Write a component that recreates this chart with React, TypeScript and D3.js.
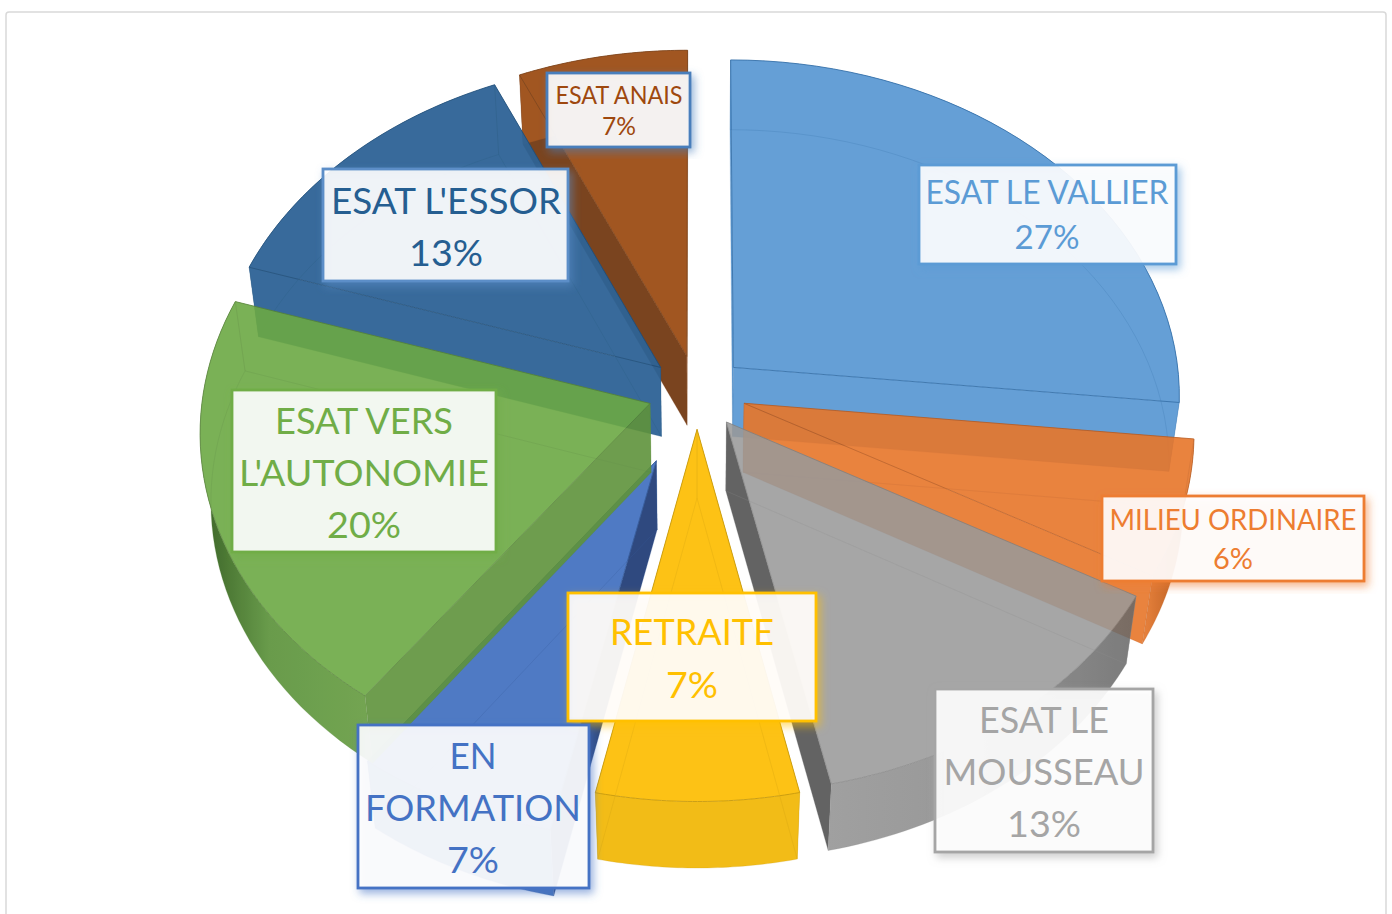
import React from "react";
import * as d3 from "d3";

const categories = ["ESAT LE VALLIER", "MILIEU ORDINAIRE", "ESAT LE MOUSSEAU", "RETRAITE", "EN FORMATION", "ESAT VERS L'AUTONOMIE", "ESAT L'ESSOR", "ESAT ANAIS"];
const shares = [26.67, 6.49, 13.48, 6.69, 6.67, 20, 13.33, 6.67];
const explosions = [0.11, 0.11, 0.11, 0.11, 0.22, 0.11, 0.11, 0.11];

const topColors = ["#659fd6", "#e9843f", "#a6a6a6", "#fdc215", "#4f7ac4", "#7bb257", "#386b9b", "#a25622"];
const startWall = ["#659fd6", "#e9843f", "#a6a6a6", "#f6bd16", "#2f4a80", "#6f9e4f", "#386b9b", "#7a4420"];
const endWall = ["#659fd6", "#e9843f", "#636363", "#f6bd16", "#44699f", "#7bb257", "#2f6ba3", "#a25622"];
const outerStops = [
  ["#659fd6", "#659fd6", "#659fd6"],
  ["#e9843f", "#d0702f", "#a0541c"],
  ["#a0a0a0", "#9a9a9a", "#7c7c7c"],
  ["#f2bc17", "#f2bc17", "#f2bc17"],
  ["#4a74bc", "#4a74bc", "#4a74bc"],
  ["#3c6428", "#6a9c4c", "#74a653"],
  ["#386b9b", "#386b9b", "#386b9b"],
  ["#a25622", "#a25622", "#a25622"],
];
const edgeColors = ["#2f6ca6", "#b8591c", "#7f7f7f", "#c79a10", "#2f5597", "#548235", "#1f4e79", "#7a3f15"];
const paintOrder = [7, 6, 0, 4, 5, 1, 2, 3];
const sliceOpacity = [0.95, 0.9, 0.87, 1, 0.95, 0.9, 0.95, 0.95];

const labelLines = [["ESAT LE VALLIER"], ["MILIEU ORDINAIRE"], ["ESAT LE", "MOUSSEAU"], ["RETRAITE"], ["EN", "FORMATION"], ["ESAT VERS", "L'AUTONOMIE"], ["ESAT L'ESSOR"], ["ESAT ANAIS"]];
const labelText = ["#5b9bd5", "#ed7d31", "#a5a5a5", "#ffc000", "#4472c4", "#70ad47", "#255e91", "#9e480e"];
const labelBorder = ["#5b9bd5", "#ed7d31", "#a5a5a5", "#ffc000", "#4472c4", "#70ad47", "#5b8ec8", "#4a7ebb"];
// box x, y, w, h, centre x, first line centre y, line gap, font size
const labelBoxes = [
  [919, 165, 257, 99, 1047, 192.5, 45, 33],
  [1102, 496, 262, 85, 1233, 519.5, 39, 29.5],
  [935, 689, 218, 163, 1044, 719, 52, 37.5],
  [568, 593, 248, 128, 692, 631, 53, 37.5],
  [358, 725, 231, 163, 473, 755, 52, 37.5],
  [232, 390, 264, 162, 364, 420, 52, 37.5],
  [323, 169, 245, 112, 446, 200, 52, 37.5],
  [547, 73, 143, 74, 619, 94.5, 31, 25],
];
const lineWidths = [
  [243, 65],
  [247, 40],
  [130, 201, 74],
  [164, 52],
  [47, 216, 52],
  [178, 250, 74],
  [230, 74],
  [127, 34],
];

const W = 1392;
const H = 914;
const cx = 697;
const cy = 392;
const f = 447;
const a = 336;
const k = 0.0804;
const dropY = 69;

function project(x: number, y: number, z: number): [number, number] {
  const d = 1 - z;
  const w = 1 + k * y + 0.022 * d;
  return [cx + (f * x) / w, cy + dropY * d - ((a + 6 * d) * y) / w];
}

// colour that shows as `hex` on white once the slice's group opacity is applied
function onWhite(hex: string, alpha: number) {
  const c = d3.rgb(hex);
  const fix = (v: number) => Math.max(0, (v - (1 - alpha) * 255) / alpha);
  return d3.rgb(fix(c.r), fix(c.g), fix(c.b)).formatHex();
}

const pieGen = d3.pie<number>().sort(null).value((d) => d);
const arcs = pieGen(shares);
const line = d3.line();

function slice(i: number) {
  const d = arcs[i];
  const mid = (d.startAngle + d.endAngle) / 2;
  const ox = explosions[i] * Math.sin(mid);
  const oy = explosions[i] * Math.cos(mid);
  const th = d3.scaleLinear().domain([0, 40]).range([d.startAngle, d.endAngle]);
  const rim = (z: number) => d3.range(41).map((n) => project(ox + Math.sin(th(n)), oy + Math.cos(th(n)), z));
  const tip = (z: number) => project(ox, oy, z);
  const top = rim(1);
  const bottom = rim(0);
  const closed = (p: [number, number][]) => (line(p) as string) + "Z";
  return {
    leftSide: mid > Math.PI,
    top: closed([tip(1), ...top]),
    floor: closed([tip(0), ...bottom]),
    outer: closed([...top, ...[...bottom].reverse()]),
    wallA: closed([tip(1), top[0], bottom[0], tip(0)]),
    wallB: closed([tip(1), top[40], bottom[40], tip(0)]),
    verticals: [
      line([top[0], bottom[0]]) as string,
      line([top[40], bottom[40]]) as string,
      line([tip(1), tip(0)]) as string,
    ],
  };
}

export default function App() {
  return (
    <svg width={W} height={H} style={{ position: "absolute", left: 0, top: 0, display: "block" }}>
      <defs>
        {outerStops.map((s, i) => (
          <linearGradient key={i} id={`outer${i}`} x1="0" x2="1" y1="0" y2="0">
            <stop offset="0" stopColor={onWhite(s[0], sliceOpacity[i])} />
            <stop offset="0.4" stopColor={onWhite(s[1], sliceOpacity[i])} />
            <stop offset="1" stopColor={onWhite(s[2], sliceOpacity[i])} />
          </linearGradient>
        ))}
        {labelBorder.map((c, i) => (
          <filter key={i} id={`shadow${i}`} x="-15%" y="-15%" width="130%" height="130%">
            <feDropShadow dx="3" dy="4" stdDeviation="4" floodColor={c} floodOpacity="0.6" />
          </filter>
        ))}
      </defs>
      <rect x={0} y={0} width={W} height={H} fill="#fff" />
      <rect x={6} y={12} width={1380} height={930} rx={3} fill="#fff" stroke="#d9d9d9" strokeWidth={1.5} />
      {paintOrder.map((i) => {
        const s = slice(i);
        const al = sliceOpacity[i];
        const wallAEl = <path d={s.wallA} fill={onWhite(startWall[i], al)} />;
        const wallBEl = <path d={s.wallB} fill={onWhite(endWall[i], al)} />;
        return (
          <g key={categories[i]} opacity={al}>
            {s.leftSide ? wallBEl : wallAEl}
            {s.leftSide ? wallAEl : wallBEl}
            <path d={s.outer} fill={`url(#outer${i})`} />
            <path d={s.top} fill={onWhite(topColors[i], al)} />
            <path d={s.floor} fill="none" stroke={edgeColors[i]} strokeOpacity={0.3} strokeWidth={0.8} />
            {s.verticals.map((v, n) => (
              <path key={n} d={v} fill="none" stroke={edgeColors[i]} strokeOpacity={0.4} strokeWidth={0.8} />
            ))}
            <path d={s.top} fill="none" stroke={edgeColors[i]} strokeOpacity={0.9} strokeWidth={1} />
          </g>
        );
      })}
      {categories.map((c, i) => {
        const [x, y, w, h, tx, ty, gap, size] = labelBoxes[i];
        const lines = [...labelLines[i], `${Math.round(shares[i])}%`];
        return (
          <g key={c}>
            <rect
              x={x}
              y={y}
              width={w}
              height={h}
              fill="#fff"
              fillOpacity={0.89}
              stroke={labelBorder[i]}
              strokeWidth={2.8}
              filter={`url(#shadow${i})`}
            />
            {lines.map((t, n) => (
              <text
                key={n}
                x={tx}
                y={ty + n * gap + size * 0.36}
                textAnchor="middle"
                fontFamily="Lato, 'Open Sans', sans-serif"
                fontSize={size}
                fill={labelText[i]}
                textLength={lineWidths[i][n]}
                lengthAdjust="spacingAndGlyphs"
              >
                {t}
              </text>
            ))}
          </g>
        );
      })}
    </svg>
  );
}
